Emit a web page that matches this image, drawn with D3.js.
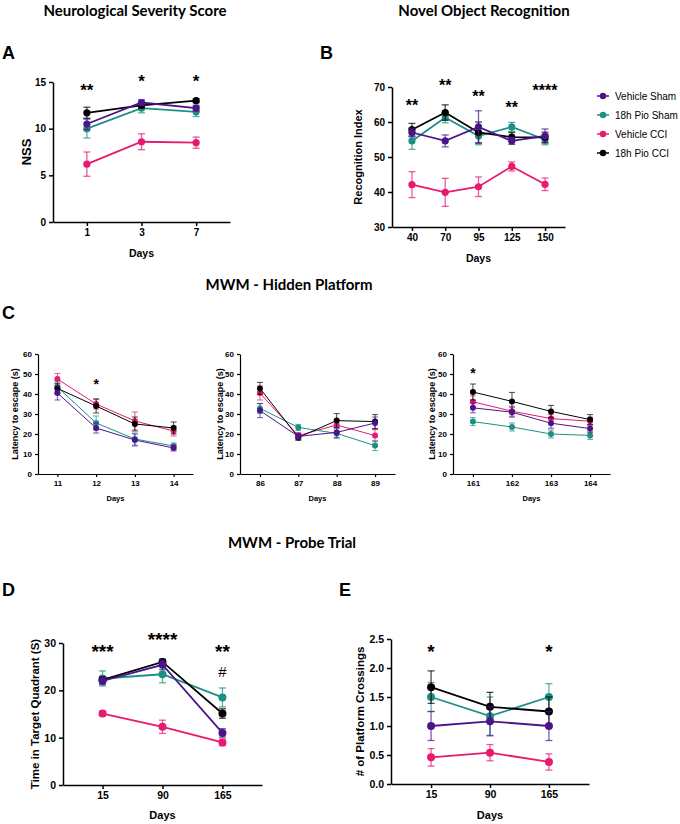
<!DOCTYPE html>
<html>
<head>
<meta charset="utf-8">
<script src="https://cdn.jsdelivr.net/npm/d3@7"></script>
<style>
  body { margin: 0; background: #fff; }
  svg { display: block; }
  .tick text { font-family: "Liberation Sans", Arial, sans-serif; font-weight: bold; }
</style>
</head>
<body>
<script>
// groups and colours
const groups = ["Vehicle Sham", "18h Pio Sham", "Vehicle CCI", "18h Pio CCI"];
const colors = ["#4b1589", "#1e8f85", "#e8196f", "#000000"];
const drawOrder = [2, 1, 3, 0];

// A - Neurological Severity Score
const nssDays = ["1", "3", "7"];
const nssMeans = [[10.5, 12.8, 12.2], [10.0, 12.2, 11.8], [6.2, 8.6, 8.5], [11.7, 12.5, 13.0]];
const nssErrs = [[0.6, 0.3, 0.3], [1.0, 0.5, 0.5], [1.3, 0.85, 0.6], [0.6, 0.3, 0.2]];
const nssStars = ["**", "*", "*"];
const nssStarLevel = [14.5, 15.5, 15.5];

// B - Novel Object Recognition
const norDays = ["40", "70", "95", "125", "150"];
const norMeans = [
  [57.0, 54.6, 58.6, 54.6, 56.0],
  [54.6, 61.3, 56.0, 58.6, 55.0],
  [42.1, 39.9, 41.5, 47.3, 42.2],
  [57.8, 62.7, 57.0, 55.7, 55.6]
];
const norErrs = [
  [1.2, 1.7, 4.6, 1.0, 2.0],
  [2.4, 1.5, 2.5, 1.3, 1.5],
  [3.7, 4.0, 2.8, 1.3, 1.8],
  [1.8, 2.2, 3.0, 1.3, 1.5]
];
const norStars = ["**", "**", "**", "**", "****"];
const norStarLevel = [65.7, 71.4, 68.3, 65.1, 70];

// C - MWM hidden platform, three sessions
const hp1Days = ["11", "12", "13", "14"];
const hp1Means = [[40.5, 23.0, 17.0, 13.0], [43.5, 25.5, 17.5, 14.0], [47.5, 35.0, 26.5, 21.5], [42.8, 34.0, 25.0, 23.0]];
const hp1Errs = [[3.5, 2.5, 3.0, 1.5], [2.5, 3.5, 3.0, 1.5], [2.8, 2.5, 4.5, 2.5], [2.5, 3.5, 3.5, 3.0]];
const hp1Stars = ["", "*", "", ""];
const hp1StarLevel = [0, 46.6, 0, 0];

const hp2Days = ["86", "87", "88", "89"];
const hp2Means = [[31.7, 18.8, 20.8, 25.5], [32.8, 23.3, 20.3, 14.2], [40.5, 19.2, 24.5, 19.2], [42.8, 18.3, 26.7, 26.2]];
const hp2Errs = [[3.5, 1.5, 2.5, 3.0], [2.5, 1.5, 2.5, 2.5], [3.5, 1.5, 2.5, 3.0], [3.0, 1.5, 3.5, 3.5]];

const hp3Days = ["161", "162", "163", "164"];
const hp3Means = [[33.1, 30.9, 25.4, 22.7], [26.2, 23.5, 20.0, 19.3], [36.1, 31.4, 27.7, 26.4], [41.0, 36.3, 31.3, 27.2]];
const hp3Errs = [[2.5, 2.5, 2.5, 2.0], [2.0, 2.0, 2.0, 2.0], [3.0, 2.5, 2.0, 2.0], [4.0, 4.5, 3.0, 2.5]];
const hp3Stars = ["*", "", "", ""];
const hp3StarLevel = [52, 0, 0, 0];

// D - probe trial, time in target quadrant
const probeDays = ["15", "90", "165"];
const timeMeans = [[22.0, 25.4, 11.0], [22.5, 23.4, 18.5], [15.1, 12.3, 9.0], [22.2, 26.0, 15.1]];
const timeErrs = [[0.8, 1.0, 0.9], [1.6, 1.8, 2.0], [0.5, 1.4, 0.7], [0.6, 0.6, 1.0]];
const timeStars = ["***", "****", "**"];
const timeStarLevel = [29.2, 31.7, 29.1];

// E - probe trial, platform crossings
const crossMeans = [[1.0, 1.08, 1.0], [1.5, 1.17, 1.5], [0.46, 0.54, 0.38], [1.67, 1.33, 1.25]];
const crossErrs = [[0.25, 0.25, 0.25], [0.25, 0.33, 0.23], [0.15, 0.14, 0.14], [0.28, 0.25, 0.25]];
const crossStars = ["*", "", "*"];
const crossStarLevel = [2.36, 0, 2.36];

const svg = d3.select("body").append("svg").attr("width", 680).attr("height", 824);

const sans = "'Liberation Sans', Arial, sans-serif";
const titleFont = "Lato, 'Open Sans', sans-serif";

function text(x, y, str, size, opts = {}) {
  return svg.append("text")
    .attr("x", x).attr("y", y)
    .attr("font-family", opts.family || sans)
    .attr("font-size", size)
    .attr("font-weight", opts.weight || "bold")
    .attr("text-anchor", opts.anchor || "middle")
    .attr("dy", opts.dy || "0.35em")
    .attr("fill", "#000")
    .text(str);
}

function drawPanel(p) {
  const x = d3.scalePoint().domain(p.cats).range([p.left, p.right]).padding(p.pad);
  const y = d3.scaleLinear().domain(p.yDomain).range([p.bottom, p.top]);
  const g = svg.append("g");

  const xAxis = g.append("g")
    .attr("transform", `translate(0,${p.bottom})`)
    .call(d3.axisBottom(x).tickSize(p.tick).tickSizeOuter(0).tickPadding(p.tickPad));
  const yAxis = g.append("g")
    .attr("transform", `translate(${p.left},0)`)
    .call(d3.axisLeft(y).tickValues(p.yTicks).tickFormat(p.yFmt || d3.format("d"))
      .tickSize(p.tick).tickSizeOuter(0).tickPadding(p.tickPad));
  [xAxis, yAxis].forEach(a => {
    a.select(".domain").attr("stroke-width", p.axisW);
    a.selectAll(".tick line").attr("stroke-width", p.axisW);
    a.selectAll(".tick text").attr("font-size", p.tickFont);
  });

  drawOrder.forEach(i => {
    const pts = p.cats.map((c, j) => ({ c, m: p.means[i][j], e: p.errs[i][j] }));
    const s = g.append("g");
    // error bars
    pts.forEach(d => {
      const cx = x(d.c);
      s.append("line").attr("x1", cx).attr("x2", cx)
        .attr("y1", y(d.m - d.e)).attr("y2", y(d.m + d.e));
      [d.m - d.e, d.m + d.e].forEach(v => {
        s.append("line").attr("x1", cx - p.cap).attr("x2", cx + p.cap)
          .attr("y1", y(v)).attr("y2", y(v));
      });
    });
    s.selectAll("line").attr("stroke", colors[i]).attr("stroke-width", p.errW).attr("opacity", 0.7);
    s.append("path")
      .datum(pts)
      .attr("fill", "none")
      .attr("stroke", colors[i])
      .attr("stroke-width", p.lineW)
      .attr("d", d3.line().x(d => x(d.c)).y(d => y(d.m)));
    s.selectAll("circle").data(pts).enter().append("circle")
      .attr("cx", d => x(d.c)).attr("cy", d => y(d.m)).attr("r", p.r)
      .attr("fill", colors[i]);
  });

  if (p.stars) {
    p.stars.forEach((st, j) => {
      if (!st) return;
      text(x(p.cats[j]), y(p.starLevel[j]), st, p.starFont, { dy: "0.57em" });
    });
  }

  // axis titles
  text((p.left + p.right) / 2, p.daysY, "Days", p.daysFont);
  if (p.yLabel) {
    svg.append("text")
      .attr("transform", `translate(${p.yLabelX},${(p.top + p.bottom) / 2}) rotate(-90)`)
      .attr("font-family", sans).attr("font-size", p.yLabelFont).attr("font-weight", "bold")
      .attr("text-anchor", "middle").attr("dy", "0.35em")
      .text(p.yLabel);
  }
  return { x, y };
}

// headings and panel letters
text(135, 11, "Neurological Severity Score", 15, { family: titleFont });
text(484, 11, "Novel Object Recognition", 15, { family: titleFont });
text(289, 285, "MWM - Hidden Platform", 15, { family: titleFont });
text(292, 543, "MWM - Probe Trial", 15, { family: titleFont });
text(2, 53, "A", 18, { anchor: "start" });
text(320, 53, "B", 18, { anchor: "start" });
text(2, 313, "C", 18, { anchor: "start" });
text(2, 590, "D", 18, { anchor: "start" });
text(339, 590, "E", 18, { anchor: "start" });

const big = { tick: 4, tickPad: 3, axisW: 1.5, lineW: 1.8, errW: 1.3, r: 3.6, cap: 3.5 };
const small = { tick: 3, tickPad: 3, axisW: 1.2, lineW: 1.0, errW: 1.0, r: 3.0, cap: 3 };

drawPanel(Object.assign({}, big, {
  cats: nssDays, means: nssMeans, errs: nssErrs, stars: nssStars, starLevel: nssStarLevel,
  left: 53, right: 230, pad: 0.62, top: 82, bottom: 222, yDomain: [0, 15], yTicks: [0, 5, 10, 15],
  tickFont: 10, starFont: 17, daysY: 253, daysFont: 10.5, yLabel: "NSS", yLabelX: 26, yLabelFont: 13
}));

drawPanel(Object.assign({}, big, {
  cats: norDays, means: norMeans, errs: norErrs, stars: norStars, starLevel: norStarLevel,
  left: 392, right: 565, pad: 0.6, top: 87, bottom: 227, yDomain: [30, 70], yTicks: [30, 40, 50, 60, 70],
  tickFont: 10, starFont: 16, daysY: 258, daysFont: 10.5, yLabel: "Recognition Index", yLabelX: 358, yLabelFont: 11
}));

drawPanel(Object.assign({}, small, {
  cats: hp1Days, means: hp1Means, errs: hp1Errs, stars: hp1Stars, starLevel: hp1StarLevel,
  left: 38, right: 193, pad: 0.5, top: 354, bottom: 474, yDomain: [0, 60], yTicks: d3.range(0, 61, 10),
  tickFont: 8, starFont: 14, daysY: 498, daysFont: 7.5, yLabel: "Latency to escape (s)", yLabelX: 15, yLabelFont: 9
}));

drawPanel(Object.assign({}, small, {
  cats: hp2Days, means: hp2Means, errs: hp2Errs,
  left: 240, right: 395, pad: 0.52, top: 354, bottom: 474, yDomain: [0, 60], yTicks: d3.range(0, 61, 10),
  tickFont: 8, daysY: 498, daysFont: 7.5, yLabel: "Latency to escape (s)", yLabelX: 220, yLabelFont: 9
}));

drawPanel(Object.assign({}, small, {
  cats: hp3Days, means: hp3Means, errs: hp3Errs, stars: hp3Stars, starLevel: hp3StarLevel,
  left: 453, right: 610, pad: 0.51, top: 354, bottom: 474, yDomain: [0, 60], yTicks: d3.range(0, 61, 10),
  tickFont: 8, starFont: 14, daysY: 498, daysFont: 7.5, yLabel: "Latency to escape (s)", yLabelX: 432, yLabelFont: 9
}));

const d = drawPanel(Object.assign({}, big, {
  cats: probeDays, means: timeMeans, errs: timeErrs, stars: timeStars, starLevel: timeStarLevel,
  left: 63, right: 262, pad: 0.66, top: 643, bottom: 785, yDomain: [0, 30], yTicks: [0, 10, 20, 30],
  tickFont: 10.5, starFont: 19, daysY: 815, daysFont: 11, yLabel: "Time in Target Quadrant (S)", yLabelX: 35, yLabelFont: 11.5,
  r: 4
}));
text(d.x("165"), d.y(23.9), "#", 15, { weight: "normal" });

drawPanel(Object.assign({}, big, {
  cats: probeDays, means: crossMeans, errs: crossErrs, stars: crossStars, starLevel: crossStarLevel,
  left: 391, right: 589, pad: 0.68, top: 639, bottom: 784, yDomain: [0, 2.5], yTicks: d3.range(0, 2.51, 0.5),
  yFmt: d3.format(".1f"),
  tickFont: 10.5, starFont: 19, daysY: 815, daysFont: 11, yLabel: "# of Platform Crossings", yLabelX: 360, yLabelFont: 11.5,
  r: 4
}));

// legend
const legend = svg.append("g").attr("transform", "translate(597,96)");
groups.forEach((name, i) => {
  const row = legend.append("g").attr("transform", `translate(0,${i * 19})`);
  row.append("line").attr("x1", 0).attr("x2", 12).attr("stroke", colors[i]).attr("stroke-width", 1.5);
  row.append("circle").attr("cx", 6).attr("r", 3.2).attr("fill", colors[i]);
  row.append("text").attr("x", 18).attr("dy", "0.35em")
    .attr("font-family", sans).attr("font-size", 10).text(name);
});
</script>
</body>
</html>
